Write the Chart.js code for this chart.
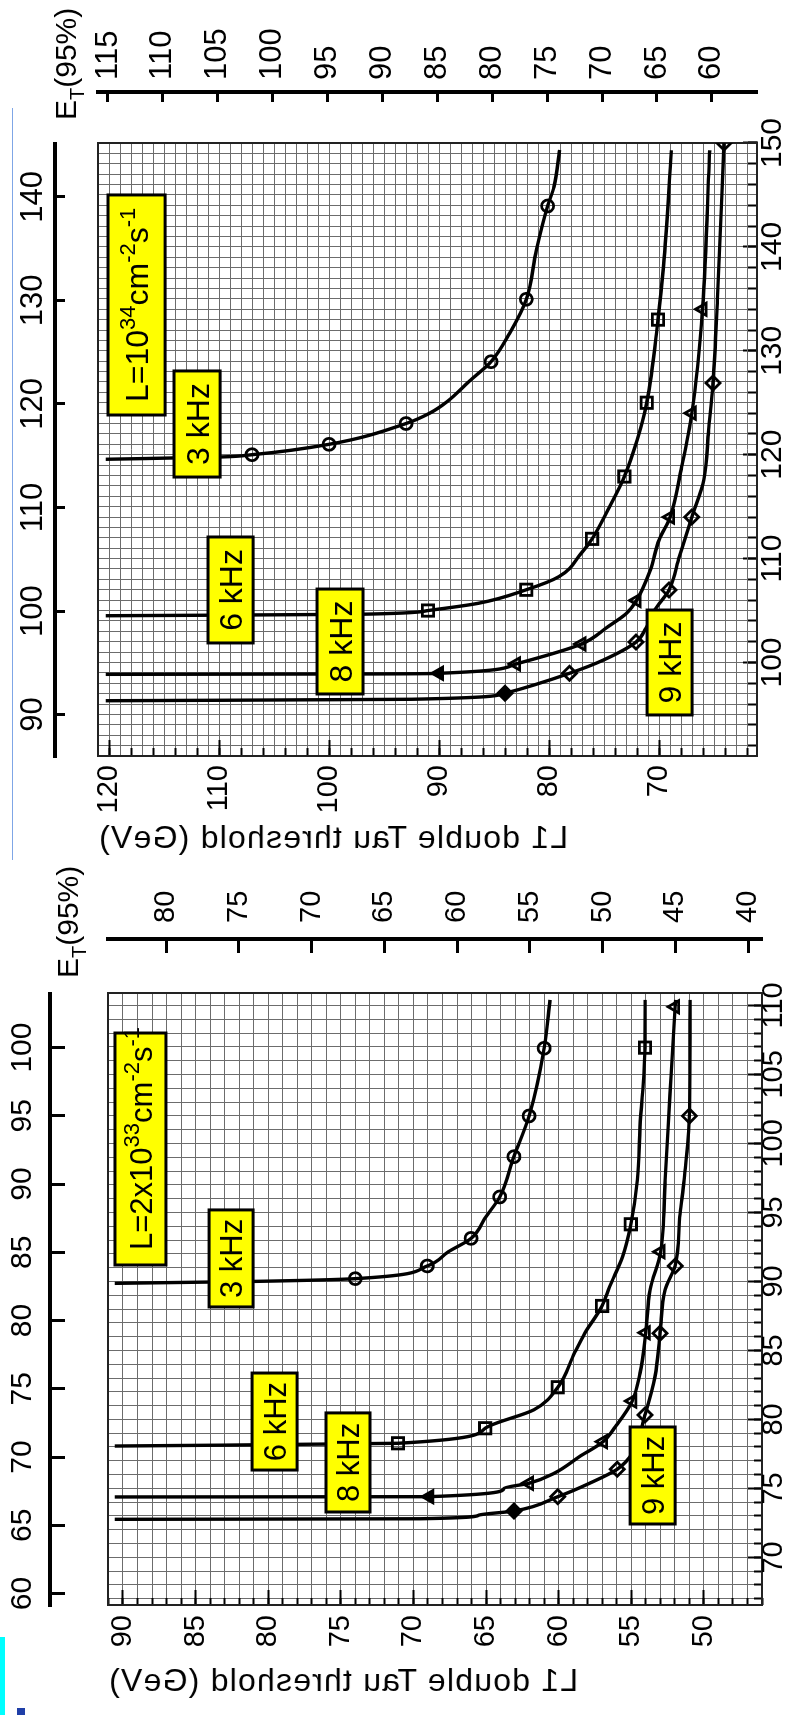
<!DOCTYPE html>
<html><head><meta charset="utf-8">
<script src="https://cdn.jsdelivr.net/npm/chart.js@4.4.0/dist/chart.umd.min.js"></script>
<style>
html,body{margin:0;padding:0;background:#fff;}
body{width:790px;height:1715px;position:relative;overflow:hidden;}
.panel{position:absolute;left:0;width:790px;overflow:hidden;}
.rot{position:absolute;left:0;top:0;transform-origin:0 0;}
.rot canvas{display:block;}
.atitle{position:absolute;font-family:'Liberation Sans',Arial,Helvetica,sans-serif;font-size:32px;letter-spacing:1.2px;line-height:1;white-space:nowrap;color:#000;transform:scaleX(-1);}
.deco{position:absolute;}
</style></head>
<body>
<div class="deco" style="left:12px;top:108px;width:1px;height:752px;background:#7fa6e6"></div>
<div class="panel" style="top:0;height:860px">
  <div class="rot" style="width:860px;height:790px;transform:translate(0px,860px) rotate(-90deg)">
    <canvas id="cUp" width="860" height="790" style="width:860px;height:790px"></canvas>
  </div>
</div>
<div class="atitle" style="left:98px;top:821px">L1 double Tau threshold (GeV)</div>
<div class="panel" style="top:860px;height:855px">
  <div class="rot" style="width:855px;height:790px;transform:translate(0px,855px) rotate(-90deg)">
    <canvas id="cLo" width="855" height="790" style="width:855px;height:790px"></canvas>
  </div>
</div>
<div class="atitle" style="left:108px;top:1664px">L1 double Tau threshold (GeV)</div>
<div class="deco" style="left:0;top:1637px;width:5px;height:78px;background:#00ffff"></div>
<div class="deco" style="left:17px;top:1708px;width:8px;height:7px;background:#1f3fa8"></div>
<script>
// ================= DATA =================
// S = L1 single-tau threshold (GeV), D = L1 double-tau threshold (GeV)
// ---- upper panel: L = 10^34 cm^-2 s^-1 ----
const up3k_S = [119.56,119.78,120.0,121.0,123.0,123.98,125.1,127.1,128.95,131.7,134.96,139.7,143.94,145.8,149.33];
const up3k_D = [120.3,109.9,107.0,100.0,93.0,90.88,89.27,87.23,85.27,83.58,82.07,81.15,80.13,79.55,79.04];
const up3k_mS = [120.0,121.0,123.0,128.95,134.96,143.94];
const up3k_mD = [107.0,100.0,93.0,85.27,82.07,80.13];

const up6k_S = [104.5,104.64,105.0,105.7,107.0,108.26,110.5,111.9,114.7,117.9,121.4,125.0,133.0,138.1,149.3];
const up6k_D = [120.3,97.36,91.0,86.42,82.07,79.1,77.09,76.09,74.65,73.15,72.0,71.12,70.1,69.6,68.88];
const up6k_mS = [105.0,107.0,111.9,117.9,125.0,133.0];
const up6k_mD = [91.0,82.07,76.09,73.15,71.12,70.1];

const up8k_S = [98.86,98.9,98.96,99.86,101.78,103.45,104.7,105.97,108.9,111.8,114.0,118.85,124.0,134.0,149.3];
const up8k_D = [120.3,95.4,90.0,83.0,77.05,74.65,73.0,72.05,70.8,70.0,69.0,67.95,67.02,66.05,65.4];
const up8k_mS = [98.96,99.86,101.78,105.97,114.0,124.0,134.0];
const up8k_mD = [90.0,83.0,77.05,72.05,69.0,67.02,66.05];

const up9k_S = [96.32,96.46,97.04,98.96,100.24,101.97,103.3,105.05,106.98,110.2,114.0,117.6,122.4,126.9,134.9,150.0];
const up9k_D = [120.3,92.5,84.0,78.14,75.05,72.09,71.2,70.4,69.09,68.15,67.03,65.93,65.5,65.1,64.7,64.1];
const up9k_mS = [97.04,98.96,101.97,106.98,114.0,126.9,150.0];
const up9k_mD = [84.0,78.14,72.09,69.09,67.03,65.1,64.1];

// ---- lower panel: L = 2x10^33 cm^-2 s^-1 ----
const lo3k_S = [89.86,90.0,90.2,91.12,92.15,93.12,94.7,96.12,99.04,101.99,106.9,110.4];
const lo3k_D = [90.56,81.0,74.0,69.05,67.6,66.03,65.0,64.06,63.08,62.04,61.0,60.6];
const lo3k_mS = [90.2,91.12,93.12,96.12,99.04,101.99,106.9];
const lo3k_mD = [74.0,69.05,66.03,64.06,63.08,62.04,61.0];

const lo6k_S = [78.07,78.27,79.36,80.7,82.33,84.79,86.24,88.22,89.6,91.8,94.14,97.35,101.2,106.94,110.4];
const lo6k_D = [90.56,71.06,65.06,61.7,60.06,58.92,58.2,57.01,56.5,55.6,55.03,54.58,54.4,54.06,54.05];
const lo6k_mS = [78.27,79.36,82.33,88.22,94.14,106.94];
const lo6k_mD = [71.06,65.06,60.06,57.01,55.03,54.06];

const lo8k_S = [74.38,74.4,75.0,75.37,76.1,77.3,78.39,79.47,81.33,83.34,86.28,89.4,92.15,97.35,103.6,109.9,110.4];
const lo8k_D = [90.56,68.91,63.77,62.04,60.3,58.57,56.94,56.1,54.93,54.4,54.0,53.7,52.98,52.67,52.33,51.98,51.95];
const lo8k_mS = [74.4,75.37,78.39,81.33,86.28,92.15,109.9];
const lo8k_mD = [68.91,62.04,56.94,54.93,54.0,52.98,51.98];

const lo9k_S = [72.76,72.8,73.06,73.36,74.4,75.37,76.39,77.54,80.32,83.1,86.24,89.4,91.12,94.9,97.35,101.99,110.4];
const lo9k_D = [90.56,69.5,65.5,63.08,60.06,57.88,55.97,54.93,54.06,53.37,53.02,52.67,51.98,51.64,51.36,51.0,50.95];
const lo9k_mS = [73.36,74.4,76.39,80.32,86.24,91.12,101.99];
const lo9k_mD = [63.08,60.06,55.97,54.06,53.02,51.98,51.0];

// ---- tick labels ----
const U_S_TICKS  = [100,110,120,130,140,150];
const U_D_TICKS  = [70,80,90,100,110,120];
const U_S2_TICKS = [90,100,110,120,130,140];
const U_ET_TICKS = [60,65,70,75,80,85,90,95,100,105,110,115];
const L_S_TICKS  = [70,75,80,85,90,95,100,105,110];
const L_D_TICKS  = [50,55,60,65,70,75,80,85,90];
const L_S2_TICKS = [60,65,70,75,80,85,90,95,100];
const L_ET_TICKS = [40,45,50,55,60,65,70,75,80];

// ---- rate labels (anchored in data units: S range, D range) ----
const L34 = [{t:'L=10'},{t:'34',sup:1},{t:'cm'},{t:'-2',sup:1},{t:'s'},{t:'-1',sup:1}];
const L2x33 = [{t:'L=2x10'},{t:'33',sup:1},{t:'cm'},{t:'-2',sup:1},{t:'s'},{t:'-1',sup:1}];
const U_LABELS = [
  {s:[123.82,145.0], d:[114.9,120.09], runs:L34, left:true},
  {s:[117.85,128.06], d:[109.9,114.09], runs:[{t:'3 kHz'}]},
  {s:[101.88,112.08], d:[106.9,111.0], runs:[{t:'6 kHz'}]},
  {s:[96.97,107.07], d:[96.91,101.09], runs:[{t:'8 kHz'}]},
  {s:[94.95,105.05], d:[67.0,71.09], runs:[{t:'9 kHz'}]}
];
const L_LABELS = [
  {s:[91.19,108.0], d:[87.04,90.55], runs:L2x33, left:true},
  {s:[88.15,95.18], d:[81.04,84.07], runs:[{t:'3 kHz'}]},
  {s:[76.33,83.36], d:[78.01,81.11], runs:[{t:'6 kHz'}]},
  {s:[73.29,80.47], d:[72.99,76.02], runs:[{t:'8 kHz'}]},
  {s:[72.42,79.45], d:[51.98,55.08], runs:[{t:'9 kHz'}]}
];

// ================= RENDERING =================
const FONT = "'Liberation Sans', Arial, Helvetica, sans-serif";
Chart.defaults.font.family = FONT;
Chart.defaults.color = '#000';
const GRID = '#6c6c6c';
const FRAME = '#222';

function steps(a, b, st) { const r = []; for (let v = a; v <= b + 1e-9; v += st) r.push(Math.round(v * 1000) / 1000); return r; }
function xy(S, D) { return S.map((s, i) => ({x: s, y: D[i]})); }

function makeTextPlugin(cfg) {
  return {
    id: 'panelText',
    afterDatasetsDraw(chart) {
      const ctx = chart.ctx, sx = chart.scales.x, sy = chart.scales.y;
      ctx.save();
      ctx.textAlign = 'left'; ctx.textBaseline = 'alphabetic';
      cfg.boxes.forEach(b => {
        const xa = sx.getPixelForValue(b.s[0]), xb = sx.getPixelForValue(b.s[1]);
        const ya = sy.getPixelForValue(b.d[0]), yb = sy.getPixelForValue(b.d[1]);
        const L = Math.min(xa, xb), R = Math.max(xa, xb), T = Math.min(ya, yb), B = Math.max(ya, yb);
        ctx.fillStyle = '#ffff00'; ctx.fillRect(L, T, R - L, B - T);
        ctx.lineWidth = 3; ctx.strokeStyle = '#000'; ctx.strokeRect(L, T, R - L, B - T);
        const widths = b.runs.map(r => { ctx.font = (r.sup ? cfg.supFont : cfg.boxFont) + 'px ' + FONT; return ctx.measureText(r.t).width; });
        const total = widths.reduce((a, w) => a + w, 0);
        let x = b.left ? L + cfg.pad : (L + R) / 2 - total / 2;
        const base = (T + B) / 2 + cfg.boxFont * 0.36;
        ctx.fillStyle = '#000';
        b.runs.forEach((r, i) => {
          ctx.font = (r.sup ? cfg.supFont : cfg.boxFont) + 'px ' + FONT;
          ctx.fillText(r.t, x, r.sup ? base - cfg.supRaise : base);
          x += widths[i];
        });
      });
      const e = cfg.et;
      ctx.fillStyle = '#000';
      ctx.font = e.size + 'px ' + FONT; ctx.fillText('E', e.x, e.y);
      let x = e.x + ctx.measureText('E').width;
      ctx.font = e.sub + 'px ' + FONT; ctx.fillText('T', x, e.y + e.size * 0.25);
      x += ctx.measureText('T').width;
      ctx.font = e.size + 'px ' + FONT; ctx.fillText('(95%)', x, e.y);
      ctx.restore();
    }
  };
}

function buildChart(id, P, series, textCfg) {
  const zero = s => { s.paddingLeft = 0; s.paddingRight = 0; s.paddingTop = 0; s.paddingBottom = 0; };
  const fixH = h => s => { s.height = h; zero(s); };
  const fixW = w => s => { s.width = w; zero(s); };
  const setT = vals => s => { s.ticks = vals.map(v => ({value: v})); };
  const tk = extra => Object.assign({autoSkip: false, maxRotation: 0, minRotation: 0, callback: v => String(v)}, extra);
  const scales = {
    xg: {type:'linear', axis:'x', position:'bottom', weight:-10, min:P.s[0], max:P.s[1], afterFit:fixH(0), afterBuildTicks:setT(steps(P.sGrid[0], P.sGrid[1], 1)),
         ticks:tk({display:false}), grid:{color:GRID, lineWidth:1, drawTicks:false}, border:{display:false}},
    xm: {type:'linear', axis:'x', position:'bottom', weight:-5, min:P.s[0], max:P.s[1], afterFit:fixH(0), afterBuildTicks:setT(steps(P.sMin[0], P.sMin[1], P.sMin[2])),
         ticks:tk({display:false}), grid:{drawOnChartArea:false, tickLength:-P.sMinorLen, tickWidth:2, tickColor:'#000'}, border:{display:false}},
    x:  {type:'linear', axis:'x', position:'bottom', weight:0, min:P.s[0], max:P.s[1], afterFit:fixH(P.bottomH), afterBuildTicks:setT(P.sTicks),
         ticks:tk({font:{size:P.fR, family:FONT}, color:'#000', padding:P.padR}), grid:{drawOnChartArea:false, tickLength:-P.sMajorLen, tickWidth:2, tickColor:'#000'},
         border:{display:true, color:FRAME, width:2}},
    yg: {type:'linear', axis:'y', position:'left', weight:-10, min:P.d[0], max:P.d[1], afterFit:fixW(0), afterBuildTicks:setT(steps(P.dGrid[0], P.dGrid[1], 1)),
         ticks:tk({display:false}), grid:{color:GRID, lineWidth:1, drawTicks:false}, border:{display:false}},
    ym: {type:'linear', axis:'y', position:'left', weight:-5, min:P.d[0], max:P.d[1], afterFit:fixW(0), afterBuildTicks:setT(steps(P.dMin[0], P.dMin[1], P.dMin[2])),
         ticks:tk({display:false}), grid:{drawOnChartArea:false, tickLength:-P.dMinorLen, tickWidth:2, tickColor:'#000'}, border:{display:false}},
    y:  {type:'linear', axis:'y', position:'left', weight:0, min:P.d[0], max:P.d[1], afterFit:fixW(P.leftW), afterBuildTicks:setT(P.dTicks),
         ticks:tk({font:{size:P.fB, family:FONT}, color:'#000', padding:P.padB}), grid:{drawOnChartArea:false, tickLength:-P.dMajorLen, tickWidth:2, tickColor:'#000'},
         border:{display:true, color:FRAME, width:2}},
    tsp: {type:'linear', axis:'x', position:'top', weight:0, min:0, max:1, afterFit:fixH(P.topSp),
          ticks:{display:false}, grid:{display:false}, border:{display:true, color:FRAME, width:2}},
    xt: {type:'linear', axis:'x', position:'top', weight:1, min:P.s2[0], max:P.s2[1], afterFit:fixH(P.topH), afterBuildTicks:setT(P.s2Ticks),
         ticks:tk({font:{size:P.fL, family:FONT}, color:'#000', padding:P.padL}), grid:{drawOnChartArea:false, tickLength:-P.s2Len, tickWidth:3, tickColor:'#000'},
         border:{display:true, color:'#000', width:4}},
    rsp: {type:'linear', axis:'y', position:'right', weight:0, min:0, max:1, afterFit:fixW(P.rightSp),
          ticks:{display:false}, grid:{display:false}, border:{display:true, color:FRAME, width:2}},
    et: {type:'linear', axis:'y', position:'right', weight:1, min:P.et[0], max:P.et[1], afterFit:fixW(P.etW), afterBuildTicks:setT(P.etTicks),
         ticks:tk({font:{size:P.fT, family:FONT}, color:'#000', padding:P.padT}), grid:{drawOnChartArea:false, tickLength:-P.etLen, tickWidth:3, tickColor:'#000'},
         border:{display:true, color:'#000', width:4}}
  };
  const datasets = [];
  series.forEach(sr => {
    datasets.push({type:'scatter', data:xy(sr.mS, sr.mD), showLine:false, xAxisID:'x', yAxisID:'y', order:0,
      pointStyle:sr.style, pointRadius:sr.r, pointBorderWidth:2.8, pointBorderColor:'#000',
      pointBackgroundColor:sr.mS.map((_, i) => (sr.fillFirst && i === 0) ? '#000' : 'rgba(0,0,0,0)')});
    datasets.push({type:'scatter', data:xy(sr.S, sr.D), showLine:true, xAxisID:'x', yAxisID:'y', order:1,
      borderColor:'#000', borderWidth:3.4, pointRadius:0, cubicInterpolationMode:'monotone', fill:false});
  });
  return new Chart(document.getElementById(id), {
    type: 'scatter',
    data: {datasets},
    options: {
      responsive:false, animation:false, devicePixelRatio:1, events:[],
      layout:{padding:0},
      plugins:{legend:{display:false}, tooltip:{enabled:false}, title:{display:false}},
      scales
    },
    plugins:[makeTextPlugin(textCfg)]
  });
}

// upper panel
buildChart('cUp', {
  s:[91,150], sGrid:[91,150], sMin:[92,150,2], sTicks:U_S_TICKS, sMinorLen:9, sMajorLen:14, fR:30, padR:11.5, bottomH:33,
  d:[61.1,121], dGrid:[62,121], dMin:[62,120,2], dTicks:U_D_TICKS, dMinorLen:8, dMajorLen:16, fB:29, padB:25, leftW:104,
  topSp:43, topH:55, s2:[86.0,145.2], s2Ticks:U_S2_TICKS, s2Len:10, fL:31, padL:13,
  rightSp:51, etW:92, et:[55.89,115.91], etTicks:U_ET_TICKS, etLen:10, fT:31, padT:22
}, [
  {S:up3k_S, D:up3k_D, mS:up3k_mS, mD:up3k_mD, style:'circle', r:6},
  {S:up6k_S, D:up6k_D, mS:up6k_mS, mD:up6k_mD, style:'rect', r:8},
  {S:up8k_S, D:up8k_D, mS:up8k_mS, mD:up8k_mD, style:'triangle', r:7, fillFirst:true},
  {S:up9k_S, D:up9k_D, mS:up9k_mS, mD:up9k_mD, style:'rectRot', r:7, fillFirst:true}
], {boxes:U_LABELS, boxFont:32, supFont:22, supRaise:13, pad:13, et:{x:740, y:76, size:30, sub:20}});

// lower panel
buildChart('cLo', {
  s:[66.55,110.9], sGrid:[67,110], sMin:[67,110,1], sTicks:L_S_TICKS, sMinorLen:8, sMajorLen:14, fR:29, padR:9, bottomH:28,
  d:[46,91.03], dGrid:[46,91], dMin:[46,91,1], dTicks:L_D_TICKS, dMinorLen:7, dMajorLen:15, fB:29, padB:25, leftW:110,
  topSp:58, topH:50, s2:[59.16,104.0], s2Ticks:L_S2_TICKS, s2Len:15, fL:30, padL:24,
  rightSp:54, etW:79, et:[39.04,84.0], etTicks:L_ET_TICKS, etLen:14, fT:29, padT:30
}, [
  {S:lo3k_S, D:lo3k_D, mS:lo3k_mS, mD:lo3k_mD, style:'circle', r:6},
  {S:lo6k_S, D:lo6k_D, mS:lo6k_mS, mD:lo6k_mD, style:'rect', r:8},
  {S:lo8k_S, D:lo8k_D, mS:lo8k_mS, mD:lo8k_mD, style:'triangle', r:7, fillFirst:true},
  {S:lo9k_S, D:lo9k_D, mS:lo9k_mS, mD:lo9k_mD, style:'rectRot', r:7, fillFirst:true}
], {boxes:L_LABELS, boxFont:31, supFont:22, supRaise:13, pad:15, et:{x:737, y:78, size:30, sub:20}});
</script>
</body></html>
